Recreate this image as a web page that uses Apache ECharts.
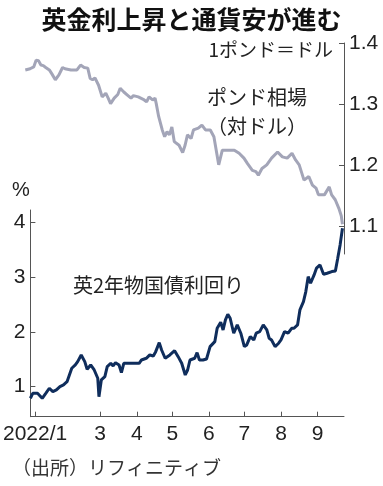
<!DOCTYPE html>
<html><head><meta charset="utf-8">
<script src="https://cdn.jsdelivr.net/npm/echarts@6/dist/echarts.min.js"></script>
<style>html,body{margin:0;padding:0;background:#fff}#c{width:383px;height:486px}</style>
</head><body><div id="c"></div>
<script>
// GBP/USD (1 pound = ? dollars)
const poundDates = ['2022-01-01','2022-01-05','2022-01-08','2022-01-10','2022-01-12','2022-01-14','2022-01-16','2022-01-18','2022-01-21','2022-01-23','2022-01-26','2022-01-29','2022-02-01','2022-02-03','2022-02-08','2022-02-13','2022-02-16','2022-02-19','2022-02-22','2022-02-24','2022-02-26','2022-02-28','2022-03-01','2022-03-03','2022-03-06','2022-03-09','2022-03-11','2022-03-13','2022-03-16','2022-03-19','2022-03-21','2022-03-24','2022-03-27','2022-03-30','2022-04-01','2022-04-05','2022-04-10','2022-04-12','2022-04-14','2022-04-17','2022-04-19','2022-04-20','2022-04-22','2022-04-25','2022-04-27','2022-04-29','2022-05-01','2022-05-03','2022-05-05','2022-05-09','2022-05-12','2022-05-14','2022-05-16','2022-05-19','2022-05-21','2022-05-25','2022-05-28','2022-05-31','2022-06-04','2022-06-07','2022-06-11','2022-06-14','2022-06-18','2022-06-24','2022-06-28','2022-07-02','2022-07-05','2022-07-06','2022-07-09','2022-07-12','2022-07-14','2022-07-17','2022-07-21','2022-07-25','2022-07-30','2022-08-03','2022-08-07','2022-08-11','2022-08-14','2022-08-17','2022-08-21','2022-08-25','2022-08-28','2022-08-31','2022-09-02','2022-09-07','2022-09-11','2022-09-13','2022-09-16','2022-09-19','2022-09-21','2022-09-22'];
const poundValues = [1.356,1.358,1.361,1.372,1.371,1.364,1.363,1.360,1.356,1.350,1.340,1.348,1.360,1.358,1.356,1.356,1.364,1.360,1.359,1.342,1.340,1.343,1.342,1.331,1.312,1.318,1.310,1.301,1.310,1.316,1.326,1.320,1.315,1.310,1.314,1.312,1.307,1.304,1.312,1.307,1.310,1.301,1.280,1.258,1.247,1.255,1.250,1.263,1.239,1.233,1.221,1.233,1.250,1.244,1.258,1.261,1.266,1.258,1.258,1.247,1.201,1.225,1.225,1.225,1.220,1.212,1.203,1.206,1.192,1.190,1.184,1.195,1.201,1.212,1.222,1.214,1.212,1.220,1.209,1.201,1.176,1.182,1.168,1.163,1.152,1.152,1.165,1.152,1.144,1.130,1.118,1.104];

// UK 2-year gilt yield (%)
const yieldDates = ['2022-01-01','2022-01-03','2022-01-07','2022-01-11','2022-01-14','2022-01-17','2022-01-20','2022-01-23','2022-01-26','2022-01-29','2022-02-01','2022-02-03','2022-02-05','2022-02-08','2022-02-10','2022-02-13','2022-02-16','2022-02-18','2022-02-21','2022-02-24','2022-02-27','2022-02-28','2022-03-02','2022-03-05','2022-03-07','2022-03-10','2022-03-12','2022-03-14','2022-03-17','2022-03-19','2022-03-21','2022-03-25','2022-03-30','2022-04-03','2022-04-05','2022-04-09','2022-04-12','2022-04-15','2022-04-17','2022-04-20','2022-04-22','2022-04-25','2022-04-29','2022-05-03','2022-05-06','2022-05-09','2022-05-12','2022-05-14','2022-05-16','2022-05-20','2022-05-22','2022-05-24','2022-05-27','2022-05-30','2022-06-02','2022-06-06','2022-06-08','2022-06-11','2022-06-13','2022-06-15','2022-06-17','2022-06-19','2022-06-22','2022-06-25','2022-06-28','2022-07-01','2022-07-03','2022-07-06','2022-07-09','2022-07-11','2022-07-14','2022-07-17','2022-07-20','2022-07-22','2022-07-24','2022-07-27','2022-07-30','2022-08-01','2022-08-04','2022-08-07','2022-08-10','2022-08-12','2022-08-15','2022-08-17','2022-08-20','2022-08-22','2022-08-24','2022-08-26','2022-08-29','2022-08-31','2022-09-03','2022-09-06','2022-09-09','2022-09-13','2022-09-16','2022-09-18','2022-09-20','2022-09-22'];
const yieldValues = [0.788,0.879,0.879,0.788,0.879,0.971,0.909,0.940,1.000,1.031,1.091,1.214,1.337,1.397,1.457,1.580,1.457,1.318,1.397,1.305,1.154,0.817,1.123,1.183,1.366,1.428,1.379,1.439,1.397,1.256,1.428,1.428,1.428,1.428,1.488,1.519,1.580,1.562,1.640,1.805,1.671,1.519,1.580,1.658,1.549,1.428,1.214,1.305,1.488,1.519,1.622,1.488,1.488,1.506,1.732,1.823,2.068,2.178,2.037,2.220,2.324,2.251,1.977,2.129,1.977,1.732,1.763,1.915,1.854,1.977,2.006,2.129,2.037,1.885,1.854,1.732,1.794,1.854,2.006,1.977,2.068,2.068,2.129,2.403,2.555,2.738,3.012,2.891,3.043,3.166,3.226,3.056,3.074,3.104,3.116,3.349,3.592,3.897];

const xTickDates = ['2022-01-05','2022-03-01','2022-04-01','2022-05-01','2022-06-01','2022-07-01','2022-08-01','2022-09-01'];
const xTickLabels = ['2022/1','3','4','5','6','7','8','9'];
const yieldTicks = [1,2,3,4];
const poundTicks = [1.1,1.2,1.3,1.4];

function ts(s){const p=s.split('-').map(Number);return Date.UTC(p[0],p[1]-1,p[2]);}
const xMin = ts('2022-01-01');
const xMax = ts('2022-09-23') + 7*3600*1000;
const xTickTs = xTickDates.map(ts);

const numFont = '"Liberation Sans Narrow","Liberation Sans",sans-serif';
const jpFont = '"Noto Sans CJK JP",sans-serif';
const axisCol = '#555';

const chart = echarts.init(document.getElementById('c'), null, {renderer:'canvas'});
chart.setOption({
  animation:false,
  backgroundColor:'#fff',
  grid:[
    {left:25.3, right:39, top:43, bottom:232, containLabel:false},
    {left:25.3, right:39, top:210, bottom:69.3, containLabel:false}
  ],
  xAxis:[
    {type:'value', gridIndex:0, min:xMin, max:xMax, show:false, splitLine:{show:false}},
    {type:'value', gridIndex:1, min:xMin, max:xMax,
     axisLine:{show:true, lineStyle:{color:axisCol, width:1}},
     axisTick:{show:true, inside:true, length:5, customValues:xTickTs, lineStyle:{color:axisCol}},
     axisLabel:{show:true, customValues:xTickTs, margin:7, color:'#222', fontSize:21, fontFamily:numFont,
       formatter:function(v){const i=xTickTs.indexOf(v);return i>=0?xTickLabels[i]:'';}},
     splitLine:{show:false}}
  ],
  yAxis:[
    {type:'value', gridIndex:0, position:'right', min:1.0554, max:1.4,
     axisLine:{show:true, lineStyle:{color:axisCol, width:1}},
     axisTick:{show:true, inside:true, length:5, customValues:poundTicks, lineStyle:{color:axisCol}},
     axisLabel:{show:true, customValues:poundTicks, margin:5, color:'#222', fontSize:21, fontFamily:numFont,
       formatter:function(v){return v.toFixed(1);}},
     splitLine:{show:false}},
    {type:'value', gridIndex:1, position:'left', min:0.451, max:4.23,
     axisLine:{show:true, lineStyle:{color:axisCol, width:1}},
     axisTick:{show:true, inside:true, length:5, customValues:yieldTicks, lineStyle:{color:axisCol}},
     axisLabel:{show:true, customValues:yieldTicks, margin:5, color:'#222', fontSize:21, fontFamily:numFont},
     splitLine:{show:false}}
  ],
  series:[
    {type:'line', xAxisIndex:0, yAxisIndex:0, symbol:'none', z:2,
     data:poundDates.map((d,i)=>[ts(d),poundValues[i]]),
     lineStyle:{color:'#a3a5b8', width:3}},
    {type:'line', xAxisIndex:1, yAxisIndex:1, symbol:'none', z:3,
     data:yieldDates.map((d,i)=>[ts(d),yieldValues[i]]),
     lineStyle:{color:'#0f2d5c', width:3}}
  ],
  graphic:[
    {type:'text', left:'center', top:7, style:{text:'英金利上昇と通貨安が進む', fontSize:25, fontWeight:'bold', fontFamily:jpFont, fill:'#111'}},
    {type:'text', right:50, top:40, style:{text:'1ポンド＝ドル', fontSize:19, fontFamily:jpFont, fill:'#222'}},
    {type:'text', x:257, y:97, style:{text:'ポンド相場', fontSize:20, fontFamily:jpFont, fill:'#222', align:'center', verticalAlign:'middle'}},
    {type:'text', x:257, y:126, style:{text:'（対ドル）', fontSize:20, fontFamily:jpFont, fill:'#222', align:'center', verticalAlign:'middle'}},
    {type:'text', x:21, y:190, style:{text:'%', fontSize:20, fontFamily:numFont, fill:'#222', align:'center', verticalAlign:'middle'}},
    {type:'text', x:73, y:285, style:{text:'英2年物国債利回り', fontSize:20, fontFamily:jpFont, fill:'#222', align:'left', verticalAlign:'middle'}},
    {type:'text', x:12, y:468, style:{text:'（出所）リフィニティブ', fontSize:19, fontFamily:jpFont, fill:'#333', align:'left', verticalAlign:'middle'}}
  ]
});
</script></body></html>
